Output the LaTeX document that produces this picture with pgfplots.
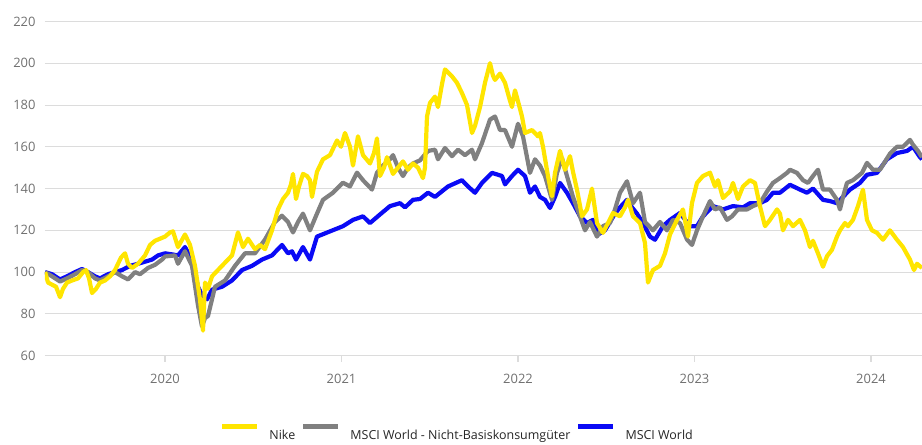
\documentclass[border=0pt]{standalone}
\usepackage{pgfplots}
\pgfplotsset{compat=1.18}
\usepackage{pgfplotstable}
\usepackage{fontspec}
\setmainfont{Open Sans}
\definecolor{nikeyellow}{HTML}{FFE500}
\definecolor{consgray}{HTML}{808080}
\definecolor{worldblue}{HTML}{0A0AF5}
\definecolor{gridgray}{HTML}{DCDCDC}
\definecolor{labelgray}{HTML}{707070}

% x in pixel position of the reference, converted to decimal years below
\pgfplotstableread{
px val
45 100
48 95
52 94
56 93
60 88
63 92
67 95
72 96
78 97
83 100
86 101
89 97
92 90
96 92
100 95
105 96
110 98
115 101
118 104
121 107
125 109
128 104
132 102
138 104
145 108
150 113
155 115
160 116
165 117
170 119
173 119.5
178 112
185 118
190 113
195 103
200 87
203 72
205 95
208 92
212 98
218 101
225 104.5
232 108
238 119
243 112
248 116
255 111
260 113
265 111
272 120
278 130
283 135
288 138
291 142
293 147
296 135
299 141
303 147
307 146
310 144
312 136
317 148
323 154
330 156
337 163
341 160
345 166.6
350 160
353 151
358 165
363 156
370 152
374 157
377 164
380 146
384 150
387 155
393 147
398 150
403 153
408 149
413 152
418 150
423 145
425 150
427 174.5
430 181
435 184
438 179
442 190
445 197
452 193.7
457 190.6
462 185.7
467 180
472 166.6
475 170
480 179
485 190.6
490 200
493 194
495 192
500 195
505 190.6
510 182
512 179
515 187
519 180
522 174.5
525 166.6
532 168
538 165
540 166.6
543 160
548 146
552 136.3
555 147.5
560 158
565 149
570 155.5
573 148
577 139.5
582 126.7
587 130
592 140
597 123.5
603 118.8
608 123.5
613 128.3
620 126.7
625 131
628 134.6
633 126.7
640 123.5
645 114
648 95
653 101
660 103
665 109
670 118
677 125
683 130
688 117
692 133
697 142.7
703 146
710 147.6
715 141
718 144
723 135.5
730 138.6
733 142.7
738 135
743 141
750 144
755 142.7
760 131.6
765 122
770 125
777 130
780 128
783 120
788 125
793 122
800 125
805 120
810 112
813 115
818 109
823 102.6
827 107.6
832 110.7
837 117
840 120
845 123.5
848 122
853 125
858 131.6
863 139.5
867 125
872 120
877 118.8
883 115.5
890 120
897 115.5
903 112
910 106
914 101
917 104
922 102
}\nike

\pgfplotstableread{
px val
45 100
52 98
60 95.5
67 97
75 99
82 101
88 100
95 97
100 96
108 98
115 100
122 98
128 96.5
135 100
140 99
148 102
155 103.5
162 106
165 107.5
175 108
178 104
185 110
192 103
198 84
202 74
205 78
208 79
212 87
215 93
225 96
235 103
245 109
255 109
265 115.6
275 124
282 127
288 124
293 119
298 124
303 128
310 120
317 128
323 134.6
333 138
343 142.8
350 141
357 147.6
363 144
372 139.5
377 147.6
383 151
390 154
393 156
398 150
403 146
408 150
413 152
420 153.5
428 158
435 158.6
438 154
445 159.4
452 155.5
458 158.6
465 156
472 158.6
475 154
482 161.8
490 173
495 174.5
500 168
505 168
512 160
518 171
523 165
530 147.5
535 154
540 151
545 146
552 134.6
557 147.5
562 154.6
567 146
573 136
580 126.7
585 120
590 124
597 117
603 122
610 123.5
615 130
620 138
627 143.5
633 133
640 138
645 124
653 120
660 124
667 120
673 125
680 123.5
687 115.6
692 113
697 120
703 126.7
710 134
715 130
720 131
727 125
732 126.7
738 130
747 130
753 131.6
760 133
767 138.6
773 142.7
780 145
787 147.5
790 149
797 147.5
803 144
808 142.7
813 146
818 149
823 139.5
830 139.5
837 134.6
840 130
843 136
847 142.7
853 144
862 147.5
867 152.3
873 149
880 149
890 156.7
897 160
903 160
910 163.3
913 161
918 158
922 155
}\cons

\pgfplotstableread{
px val
45 100
52 99
60 96.5
67 98
75 100
82 101.5
88 100
95 98
100 97
108 99
115 100
122 101
130 103
138 104
145 105
152 106
158 108
165 109
172 108.5
178 108
185 112
192 106
198 93
203 88
207 87
212 91.6
222 93
232 96
242 101
252 103
262 106
272 108
282 113
288 109
292 110
296 106
303 112
310 106
317 117
330 119.5
343 122
353 125
363 126.7
370 123.5
380 127.6
390 131.6
400 133
405 131
413 134.6
420 135
428 138
435 136
448 141
462 144
468 141
475 138
482 142.7
492 147.5
502 146
505 142
512 146
518 149
525 146
530 138
535 141
540 136
545 134.6
550 130.7
555 136
560 142.7
567 138
573 133
580 126.7
587 123.5
593 125
598 118
605 120
610 124
615 128
620 131
627 134.6
632 131
637 128
643 123.5
650 117
655 115.5
663 122
670 125
680 128.3
690 122
697 122
703 126.7
713 131.6
723 130
733 131.6
743 131
750 133
760 133
767 134.6
773 138
780 138
790 141.8
800 139.5
807 138
813 140
823 134.6
830 134
837 133
842 135.5
850 139.5
860 142.7
867 146.6
877 147.5
887 154
897 157
907 158
913 160
920 155
922 154
}\world

\begin{document}
\begin{tikzpicture}
\begin{axis}[
  at={(0,0)}, anchor=south west,
  scale only axis, width=877bp, height=334.3bp,
  xmin=2019.320, xmax=2024.289, ymin=60, ymax=220,
  ytick={60,80,...,220},
  xtick={2020,2021,2022,2023,2024},
  xticklabels={2020,2021,2022,2023,2024},
  ymajorgrids,
  major grid style={draw=gridgray, line width=0.9bp},
  axis line style={draw=none},
  tick pos=left,
  ytick style={draw=none},
  xtick style={draw=gridgray, line width=1.2bp},
  tick align=outside,
  major tick length=6bp,
  tick label style={font=\fontsize{13}{15}\selectfont, text=labelgray},
  xticklabel style={yshift=-9bp},
  /pgf/number format/assume math mode=true,
  legend style={at={(0.4704,0)}, anchor=south, yshift=-88bp,
    draw=none, fill=none, inner sep=0.5bp,
    nodes={inner sep=2bp},
    font=\fontsize{12.5}{15}\selectfont, text=black!85,
    legend columns=3,
    /tikz/every even column/.append style={column sep=4bp},
    /tikz/every odd column/.append style={column sep=8bp}},
  legend image code/.code={\draw[#1] (0bp,9bp) -- (35bp,9bp);},
  every axis plot/.append style={line width=4.2bp, line join=round},
]
\addlegendimage{nikeyellow, line width=4.2bp}
\addlegendentry{Nike}
\addlegendimage{consgray, line width=4.2bp}
\addlegendentry{MSCI World - Nicht-Basiskonsumgüter}
\addlegendimage{worldblue, line width=4.2bp}
\addlegendentry{MSCI World}
\addplot[worldblue, forget plot] table[x expr={2020+(\thisrow{px}-165)/176.5}, y=val] {\world};
\addplot[consgray, forget plot] table[x expr={2020+(\thisrow{px}-165)/176.5}, y=val] {\cons};
\addplot[nikeyellow, forget plot] table[x expr={2020+(\thisrow{px}-165)/176.5}, y=val] {\nike};
\end{axis}
\pgfresetboundingbox
\path (-45bp,-89bp) rectangle (877bp,355.7bp);
\end{tikzpicture}
\end{document}
